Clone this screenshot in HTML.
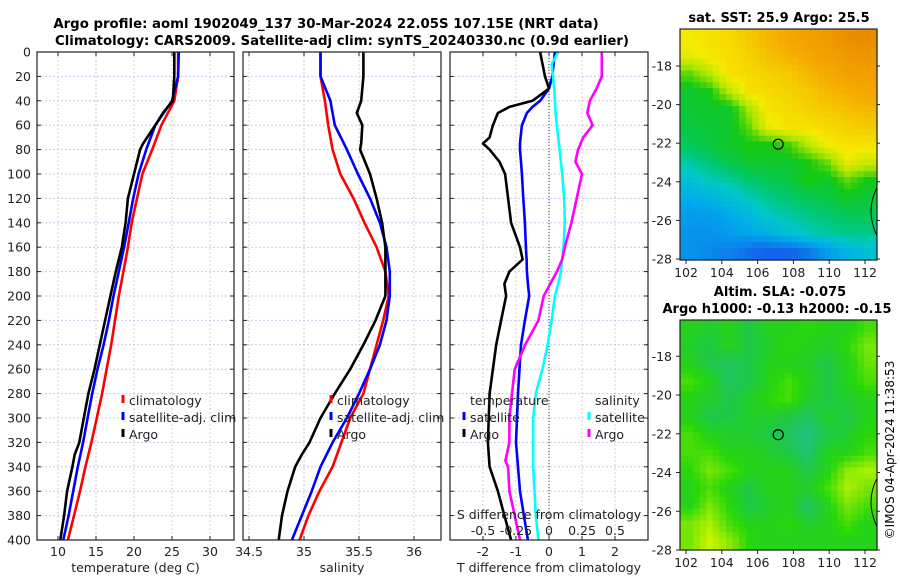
<!DOCTYPE html>
<html><head><meta charset="utf-8"><style>
body{margin:0;background:#fff}
svg{display:block;font-family:"DejaVu Sans","Liberation Sans",sans-serif}
</style></head><body>
<svg id="fig" width="900" height="580" viewBox="0 0 900 580">
<text x="326" y="28" font-size="13.3" font-weight="bold" text-anchor="middle">Argo profile: aoml 1902049_137 30-Mar-2024 22.05S 107.15E (NRT data)</text>
<text x="342" y="45" font-size="13.3" font-weight="bold" text-anchor="middle">Climatology: CARS2009. Satellite-adj clim: synTS_20240330.nc (0.9d earlier)</text>
<text x="779" y="22" font-size="13" font-weight="bold" text-anchor="middle">sat. SST: 25.9 Argo: 25.5</text>
<text x="780" y="296" font-size="13" font-weight="bold" text-anchor="middle">Altim. SLA: -0.075</text>
<text x="777" y="313" font-size="13" font-weight="bold" text-anchor="middle">Argo h1000: -0.13 h2000: -0.15</text>
<text transform="translate(894,450) rotate(-90)" font-size="12" text-anchor="middle">©IMOS 04-Apr-2024 11:38:53</text>
<g id="g"></g>
</svg>
<script>
// ---- data ----
const depths = [0,20,40,60,80,100,120,140,160,180,200,220,240,260,280,300,320,340,360,380,400];
const tempClim = [25.8,25.8,25.3,23.6,22.4,21.1,20.4,19.7,19.2,18.6,18.0,17.5,17.0,16.4,15.8,15.1,14.4,13.6,12.9,12.1,11.3];
const tempSat  = [25.9,25.8,25.0,22.8,21.6,20.6,19.9,19.3,18.7,18.0,17.3,16.7,16.0,15.2,14.5,13.9,13.3,12.6,12.0,11.4,10.7];
const argoDepths = [0,20,40,50,60,75,80,100,120,140,160,170,180,200,220,240,260,280,300,320,330,340,360,380,400];
const tempArgo = [25.3,25.3,25.1,23.8,22.8,21.2,20.8,20.0,19.2,18.9,18.4,18.0,17.6,16.9,16.2,15.5,14.8,14.0,13.4,12.8,12.2,11.9,11.2,10.8,10.3];
const salClim = [35.15,35.15,35.19,35.22,35.26,35.33,35.45,35.55,35.66,35.74,35.77,35.72,35.66,35.60,35.54,35.42,35.34,35.26,35.14,35.04,34.96];
const salSat  = [35.15,35.15,35.24,35.28,35.39,35.49,35.60,35.69,35.75,35.78,35.78,35.75,35.69,35.60,35.50,35.39,35.26,35.15,35.07,34.98,34.89];
const salArgo = [35.54,35.54,35.52,35.48,35.53,35.52,35.51,35.60,35.66,35.71,35.74,35.74,35.74,35.74,35.65,35.54,35.42,35.28,35.15,35.05,34.98,34.92,34.85,34.80,34.77];
const dTDepths = [0,20,30,40,45,50,60,70,75,80,90,100,120,140,160,170,180,190,200,220,240,280,320,340,360,380,400];
const dTArgo = [-0.27,-0.12,0,-0.5,-1.2,-1.55,-1.7,-1.8,-2.0,-1.8,-1.5,-1.33,-1.24,-1.15,-0.88,-0.8,-1.2,-1.35,-1.3,-1.45,-1.6,-1.8,-1.85,-1.8,-1.55,-1.35,-1.15];
const dTSat = [0.18,0.1,0,-0.27,-0.5,-0.67,-0.82,-0.86,-0.88,-0.88,-0.85,-0.82,-0.78,-0.73,-0.7,-0.68,-0.67,-0.64,-0.6,-0.73,-0.85,-0.94,-1.0,-0.94,-0.88,-0.76,-0.64];
const sDepths = [0,10,20,30,40,50,60,70,80,90,100,120,140,160,170,180,190,200,220,240,260,280,300,320,335,340,360,380,400];
const dSSat = [0.07,0.02,0.03,0.04,0.045,0.05,0.06,0.07,0.08,0.09,0.1,0.115,0.12,0.11,0.1,0.09,0.07,0.045,0.02,-0.01,-0.05,-0.1,-0.12,-0.12,-0.12,-0.12,-0.11,-0.1,-0.08];
const dSArgo = [0.40,0.40,0.40,0.36,0.31,0.29,0.33,0.26,0.22,0.20,0.25,0.21,0.17,0.12,0.10,0.06,0.01,-0.04,-0.08,-0.18,-0.26,-0.28,-0.30,-0.30,-0.33,-0.31,-0.30,-0.26,-0.22];
const depthTicks = [0,20,40,60,80,100,120,140,160,180,200,220,240,260,280,300,320,340,360,380,400];
const tempTicks = [10,15,20,25,30];
const salTicks = [34.5,35,35.5,36];
const salTickLabels = ["34.5","35","35.5","36"];
const dTTicks = [-2,-1,0,1,2];
const dSTicks = [-0.5,-0.25,0,0.25,0.5];
const lonTicks = [102,104,106,108,110,112];
const latTicks = [-18,-20,-22,-24,-26,-28];
const sstGrid = [
[.70,.72,.74,.78,.82,.86,.88,.9,.93,.94],
[.68,.71,.73,.76,.8,.83,.86,.88,.9,.91],
[.55,.62,.72,.74,.76,.78,.82,.85,.88,.88],
[.48,.5,.62,.72,.74,.76,.78,.82,.84,.86],
[.47,.48,.48,.6,.72,.74,.76,.78,.8,.82],
[.46,.47,.48,.55,.68,.72,.72,.74,.76,.78],
[.44,.46,.48,.5,.5,.53,.62,.7,.72,.72],
[.38,.42,.45,.48,.48,.48,.5,.56,.68,.64],
[.32,.36,.38,.42,.44,.46,.5,.48,.55,.5],
[.26,.28,.32,.36,.4,.42,.44,.46,.48,.47],
[.22,.22,.25,.3,.35,.38,.4,.42,.44,.44],
[.2,.2,.22,.24,.27,.32,.36,.38,.4,.4],
[.2,.18,.16,.12,.1,.1,.14,.22,.28,.32]];
const slaGrid = [
[.5,.48,.5,.45,.5,.5,.52,.5,.5,.55],
[.48,.45,.5,.45,.48,.52,.5,.48,.52,.6],
[.5,.45,.42,.45,.5,.5,.48,.45,.5,.58],
[.55,.5,.42,.45,.5,.55,.5,.45,.5,.55],
[.5,.48,.45,.48,.52,.55,.48,.45,.48,.5],
[.5,.45,.45,.48,.48,.45,.42,.48,.45,.5],
[.55,.5,.48,.48,.45,.42,.38,.45,.48,.52],
[.55,.55,.5,.5,.48,.45,.4,.5,.5,.55],
[.52,.6,.55,.5,.5,.5,.45,.5,.62,.65],
[.5,.55,.5,.45,.5,.5,.48,.55,.65,.6],
[.5,.6,.52,.45,.48,.5,.42,.5,.6,.55],
[.6,.65,.55,.5,.5,.52,.48,.5,.55,.5],
[.6,.68,.62,.52,.5,.5,.5,.5,.5,.5]];
const argoLon = 107.15, argoLat = -22.05;

// ---- drawing ----
const NS="http://www.w3.org/2000/svg";
const G=document.getElementById('g');
function el(tag,attrs,parent){const e=document.createElementNS(NS,tag);for(const k in attrs)e.setAttribute(k,attrs[k]);(parent||G).appendChild(e);return e;}
const Y0=52,Y1=540;
const yD=d=>Y0+(Y1-Y0)*d/400;
function lin(d0,d1,p0,p1){return v=>p0+(v-d0)*(p1-p0)/(d1-d0);}

function panel(name,x0,x1,xs,ticks,labels,title){
  const g=el('g',{});
  
  
  ticks.forEach(t=>{const l=el('line',{x1:xs(t),x2:xs(t),y1:Y0,y2:Y1,stroke:'#e0c8c8','stroke-dasharray':'2,2','stroke-width':1},g);
    });
  depthTicks.forEach(d=>{const l=el('line',{x1:x0,x2:x1,y1:yD(d),y2:yD(d),stroke:'#c8c8ec','stroke-dasharray':'2,2','stroke-width':1},g);
    
    el('line',{x1:x0,x2:x0+4,y1:yD(d),y2:yD(d),stroke:'#222'},g);el('line',{x1:x1-4,x2:x1,y1:yD(d),y2:yD(d),stroke:'#222'},g);});
  ticks.forEach((t,i)=>{el('line',{x1:xs(t),x2:xs(t),y1:Y1,y2:Y1-4,stroke:'#222'},g);el('line',{x1:xs(t),x2:xs(t),y1:Y0,y2:Y0+4,stroke:'#222'},g);
    const tx=el('text',{x:xs(t),y:556,'font-size':12.5,'text-anchor':'middle',fill:'#222'},g);tx.textContent=labels[i];
    });
  const tt=el('text',{x:(x0+x1)/2,y:572,'font-size':12.5,'text-anchor':'middle',fill:'#222'},g);tt.textContent=title;
  
  return g;
}
function curve(g,name,xs,vals,ds,color,w){
  const pts=vals.map((v,i)=>xs(v).toFixed(1)+','+yD(ds[i]).toFixed(1)).join(' ');
  const p=el('polyline',{points:pts,fill:'none',stroke:color,'stroke-width':w||2.6,'stroke-linejoin':'round'},g);
  
}
function frame(g,x0,x1){const r=el('rect',{x:x0,y:Y0,width:x1-x0,height:Y1-Y0,fill:'none',stroke:'#222','stroke-width':1.2},g);
  }
function legend(g,x,y,items){items.forEach((it,i)=>{
  if(it[1]){const m=el('line',{x1:x,x2:x,y1:y+i*17-10,y2:y+i*17-2,stroke:it[1],'stroke-width':3},g);
    }
  const t=el('text',{x:x+6,y:y+i*17,'font-size':12.5,fill:'#222'},g);t.textContent=it[0];
  });}

depthTicks.forEach(d=>{const t=el('text',{x:31,y:yD(d)+4.5,'font-size':12.5,'text-anchor':'end',fill:'#222'});t.textContent=d;
  });

const xT=lin(10,30,58,210);
const p1=panel('temperature-panel',37,234,xT,tempTicks,tempTicks.map(String),'temperature (deg C)');
curve(p1,'temp-climatology-line',xT,tempClim,depths,'#f00');
curve(p1,'temp-satellite-line',xT,tempSat,depths,'#00f');
curve(p1,'temp-argo-line',xT,tempArgo,argoDepths,'#000');
frame(p1,37,234);
legend(p1,123,405,[['climatology','#f00'],['satellite-adj. clim','#00f'],['Argo','#000']]);

const xS=lin(34.5,36,249,414);
const p2=panel('salinity-panel',243,441,xS,salTicks,salTickLabels,'salinity');
curve(p2,'sal-climatology-line',xS,salClim,depths,'#f00');
curve(p2,'sal-satellite-line',xS,salSat,depths,'#00f');
curve(p2,'sal-argo-line',xS,salArgo,argoDepths,'#000');
frame(p2,243,441);
legend(p2,331,405,[['climatology','#f00'],['satellite-adj. clim','#00f'],['Argo','#000']]);

const xdT=lin(-2,2,483,615);
const xdS=lin(-0.5,0.5,483,615);
const p3=panel('difference-panel',450,648,xdT,dTTicks,dTTicks.map(String),'T difference from climatology');
el('line',{x1:xdT(0),x2:xdT(0),y1:Y0,y2:Y1,stroke:'#556',"stroke-dasharray":'1,2','stroke-width':1.2},p3);
curve(p3,'dT-satellite-line',xdT,dTSat,dTDepths,'#00f');
curve(p3,'dS-satellite-line',xdS,dSSat,sDepths,'#0ff');
curve(p3,'dS-argo-line',xdS,dSArgo,sDepths,'#f0f');
curve(p3,'dT-argo-line',xdT,dTArgo,dTDepths,'#000');
frame(p3,450,648);
legend(p3,464,405,[['temperature',null],['satellite','#00f'],['Argo','#000']]);
legend(p3,589,405,[['salinity',null],['satellite','#0ff'],['Argo','#f0f']]);
const sl=el('text',{x:549,y:519,'font-size':12.5,'text-anchor':'middle',fill:'#222'},p3);sl.textContent='S difference from climatology';

dSTicks.forEach(s=>{const t=el('text',{x:xdS(s),y:535,'font-size':12.5,'text-anchor':'middle',fill:'#222'},p3);t.textContent=String(s);
  });

function ramp(stops,v){if(v<=stops[0][0])return 'rgb('+stops[0][1].join(',')+')';
  for(let i=1;i<stops.length;i++){if(v<=stops[i][0]){const a=stops[i-1],b=stops[i],f=(v-a[0])/(b[0]-a[0]);return 'rgb('+a[1].map((c,k)=>Math.round(c+(b[1][k]-c)*f)).join(',')+')';}}
  return 'rgb('+stops[stops.length-1][1].join(',')+')';}
const sstStops=[[0.1,[20,100,235]],[.25,[0,170,235]],[.35,[0,200,200]],[.42,[0,200,110]],[.5,[20,200,20]],[.6,[170,230,0]],[.7,[245,235,0]],[.85,[245,170,0]],[1,[225,120,0]]];
const slaStops=[[.35,[40,190,150]],[.45,[30,200,70]],[.52,[40,215,10]],[.68,[200,245,0]]];
function sample(grid,fr,fc){const R=grid.length-1,C=grid[0].length-1;
  fr=Math.max(0,Math.min(R,fr));fc=Math.max(0,Math.min(C,fc));
  const r0=Math.floor(fr),c0=Math.floor(fc),r1=Math.min(R,r0+1),c1=Math.min(C,c0+1),a=fr-r0,b=fc-c0;
  return grid[r0][c0]*(1-a)*(1-b)+grid[r0][c1]*(1-a)*b+grid[r1][c0]*a*(1-b)+grid[r1][c1]*a*b;}
function map(name,top,bottom,latA,yA,latB,yB,grid,stops){
  const g=el('g',{});
  
  const x0=680,x1=877;
  const xL=lin(102,112,686,865), yL=lin(latA,latB,yA,yB);
  const rows=grid.length, cols=grid[0].length, sub=3;
  const nr=rows*sub, nc=cols*sub, cw=(x1-x0)/nc, ch=(bottom-top)/nr;
  for(let r=0;r<nr;r++)for(let c=0;c<nc;c++){
    const v=sample(grid,(r+0.5)/sub-0.5,(c+0.5)/sub-0.5);
    const cell=el('rect',{x:(x0+c*cw).toFixed(1),y:(top+r*ch).toFixed(1),width:(cw+0.6).toFixed(1),height:(ch+0.6).toFixed(1),fill:ramp(stops,v)},g);
    }
  el('path',{d:`M${x1},${yL(-24.3)} Q${x1-12},${yL(-25.5)} ${x1},${yL(-26.8)}`,fill:'none',stroke:'#000','stroke-width':1},g);
  const c=el('circle',{cx:xL(argoLon),cy:yL(argoLat),r:5,fill:'none',stroke:'#000','stroke-width':1.2},g);
  
  el('rect',{x:x0,y:top,width:x1-x0,height:bottom-top,fill:'none',stroke:'#222','stroke-width':1.2},g);
  lonTicks.forEach(l=>{el('line',{x1:xL(l),x2:xL(l),y1:bottom,y2:bottom+4,stroke:'#222'},g);
    const t=el('text',{x:xL(l),y:bottom+17,'font-size':12.5,'text-anchor':'middle',fill:'#222'},g);t.textContent=l;
    });
  latTicks.forEach(l=>{el('line',{x1:x0-4,x2:x0,y1:yL(l),y2:yL(l),stroke:'#222'},g);el('line',{x1:x1,x2:x1+3,y1:yL(l),y2:yL(l),stroke:'#222'},g);
    const t=el('text',{x:x0-8,y:yL(l)+4.5,'font-size':12.5,'text-anchor':'end',fill:'#222'},g);t.textContent=l;
    });
}
map('sst-map',29,260,-18,66,-28,259,sstGrid,sstStops);
map('sla-map',320,550,-20,395,-28,550,slaGrid,slaStops);
</script>
</body></html>
